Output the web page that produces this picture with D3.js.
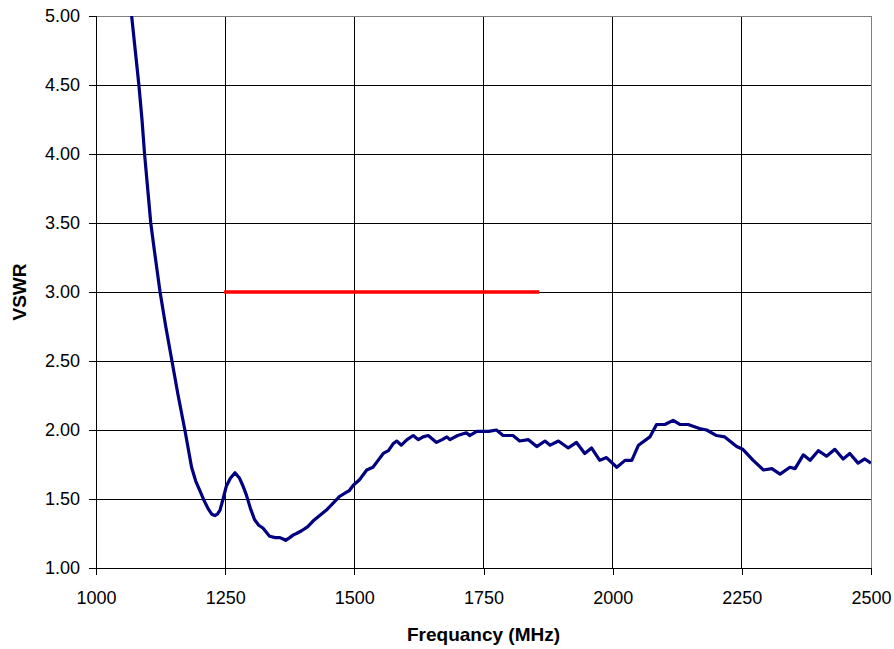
<!DOCTYPE html>
<html>
<head>
<meta charset="utf-8">
<script src="https://cdn.jsdelivr.net/npm/d3@7"></script>
<style>
  body { margin: 0; background: #fff; }
  text { font-family: "Liberation Sans", Arial, sans-serif; fill: #000; }
</style>
</head>
<body>
<div id="chart"></div>
<script>
let freq = [1069, 1076, 1083, 1089, 1094, 1100, 1106, 1113, 1124, 1135, 1147, 1159, 1172, 1185,
  1193, 1201, 1209, 1217, 1224, 1230, 1235, 1240, 1246, 1252, 1260, 1269, 1278, 1285, 1291,
  1299, 1307, 1315, 1323, 1336, 1347, 1356, 1362, 1367, 1375, 1382, 1388, 1398, 1410, 1420,
  1433, 1446, 1459, 1472, 1485, 1490, 1498, 1510, 1524, 1536, 1546, 1556, 1566, 1575, 1582,
  1591, 1602, 1614, 1624, 1633, 1643, 1659, 1670, 1679, 1685, 1700, 1717, 1723, 1737, 1760,
  1775, 1788, 1807, 1820, 1837, 1853, 1869, 1879, 1895, 1914, 1930, 1946, 1959, 1975, 1988,
  2008, 2024, 2037, 2050, 2072, 2085, 2101, 2117, 2130, 2146, 2168, 2182, 2201, 2217, 2240,
  2252, 2272, 2292, 2308, 2324, 2343, 2353, 2369, 2382, 2398, 2414, 2430, 2446, 2459, 2475,
  2488, 2500];
let vswr = [5.00, 4.75, 4.50, 4.25, 4.00, 3.75, 3.50, 3.30, 3.00, 2.75, 2.50, 2.25, 2.00, 1.73,
  1.63, 1.56, 1.49, 1.43, 1.39, 1.38, 1.39, 1.42, 1.50, 1.59, 1.65, 1.69, 1.65, 1.59, 1.53,
  1.43, 1.35, 1.31, 1.29, 1.23, 1.22, 1.22, 1.21, 1.20, 1.22, 1.24, 1.25, 1.27, 1.30, 1.34,
  1.38, 1.42, 1.47, 1.52, 1.55, 1.56, 1.60, 1.64, 1.71, 1.73, 1.78, 1.83, 1.85, 1.90, 1.92,
  1.89, 1.93, 1.96, 1.93, 1.95, 1.96, 1.91, 1.93, 1.95, 1.93, 1.96, 1.98, 1.96, 1.99, 1.99,
  2.00, 1.96, 1.96, 1.92, 1.93, 1.88, 1.92, 1.89, 1.92, 1.87, 1.91, 1.83, 1.87, 1.78, 1.80,
  1.73, 1.78, 1.78, 1.89, 1.95, 2.04, 2.04, 2.07, 2.04, 2.04, 2.01, 2.00, 1.96, 1.95, 1.88,
  1.86, 1.78, 1.71, 1.72, 1.68, 1.73, 1.72, 1.82, 1.78, 1.85, 1.81, 1.86, 1.79, 1.83, 1.76,
  1.79, 1.76];

// limit line
let limitFreq = [1248, 1858];
let limitVswr = [3.00, 3.00];

let xTicks = [1000, 1250, 1500, 1750, 2000, 2250, 2500];
let yTicks = [1.00, 1.50, 2.00, 2.50, 3.00, 3.50, 4.00, 4.50, 5.00];

let width = 894, height = 649;
let margin = {top: 16, right: 23, bottom: 81, left: 96};

let svg = d3.select('#chart').append('svg')
  .attr('width', width)
  .attr('height', height);

let x = d3.scaleLinear().domain([1000, 2500]).range([margin.left, width - margin.right]);
let y = d3.scaleLinear().domain([1, 5]).range([height - margin.bottom, margin.top]);

// gridlines
let grid = svg.append('g').attr('stroke', '#000').attr('stroke-width', 1).attr('shape-rendering', 'crispEdges');
grid.selectAll('.gx').data(xTicks.slice(1, -1)).enter().append('line')
  .attr('x1', d => x(d)).attr('x2', d => x(d))
  .attr('y1', y(5)).attr('y2', y(1));
grid.selectAll('.gy').data(yTicks.slice(1, -1)).enter().append('line')
  .attr('x1', x(1000)).attr('x2', x(2500))
  .attr('y1', d => y(d)).attr('y2', d => y(d));

// plot border (top & right in grey)
svg.append('path')
  .attr('d', `M${x(1000)},${y(5)}H${x(2500)}V${y(1)}`)
  .attr('fill', 'none').attr('stroke', '#808080').attr('shape-rendering', 'crispEdges');

// axes
let xAxis = svg.append('g')
  .attr('transform', `translate(0,${y(1)})`)
  .call(d3.axisBottom(x).tickValues(xTicks).tickSize(7).tickPadding(16).tickFormat(d3.format('d')));
let yAxis = svg.append('g')
  .attr('transform', `translate(${x(1000)},0)`)
  .call(d3.axisLeft(y).tickValues(yTicks).tickSize(7).tickPadding(9).tickFormat(d3.format('.2f')));

[xAxis, yAxis].forEach(a => {
  a.selectAll('path, line').attr('stroke', '#000').attr('shape-rendering', 'crispEdges');
  a.selectAll('text').attr('font-size', 18).attr('font-family', '"Liberation Sans", Arial, sans-serif').attr('fill', '#222');
});
xAxis.selectAll('.tick text').attr('dy', '0.71em');

// clip region
svg.append('clipPath').attr('id', 'clip')
  .append('rect')
  .attr('x', x(1000)).attr('y', y(5))
  .attr('width', x(2500) - x(1000)).attr('height', y(1) - y(5));

let line = d3.line().x(d => x(d[0])).y(d => y(d[1]));

svg.append('path')
  .datum(d3.zip(limitFreq, limitVswr))
  .attr('d', line)
  .attr('fill', 'none')
  .attr('stroke', '#ff0000')
  .attr('stroke-width', 3.5);

svg.append('path')
  .datum(d3.zip(freq, vswr))
  .attr('clip-path', 'url(#clip)')
  .attr('d', line)
  .attr('fill', 'none')
  .attr('stroke', '#000080')
  .attr('stroke-width', 3.2)
  .attr('stroke-linejoin', 'round');

// axis titles
svg.append('text')
  .attr('x', (x(1000) + x(2500)) / 2)
  .attr('y', 641)
  .attr('text-anchor', 'middle')
  .attr('font-size', 19)
  .attr('font-weight', 'bold')
  .text('Frequancy (MHz)');

svg.append('text')
  .attr('transform', `translate(26,${(y(1) + y(5)) / 2}) rotate(-90)`)
  .attr('text-anchor', 'middle')
  .attr('font-size', 19)
  .attr('font-weight', 'bold')
  .text('VSWR');
</script>
</body>
</html>
